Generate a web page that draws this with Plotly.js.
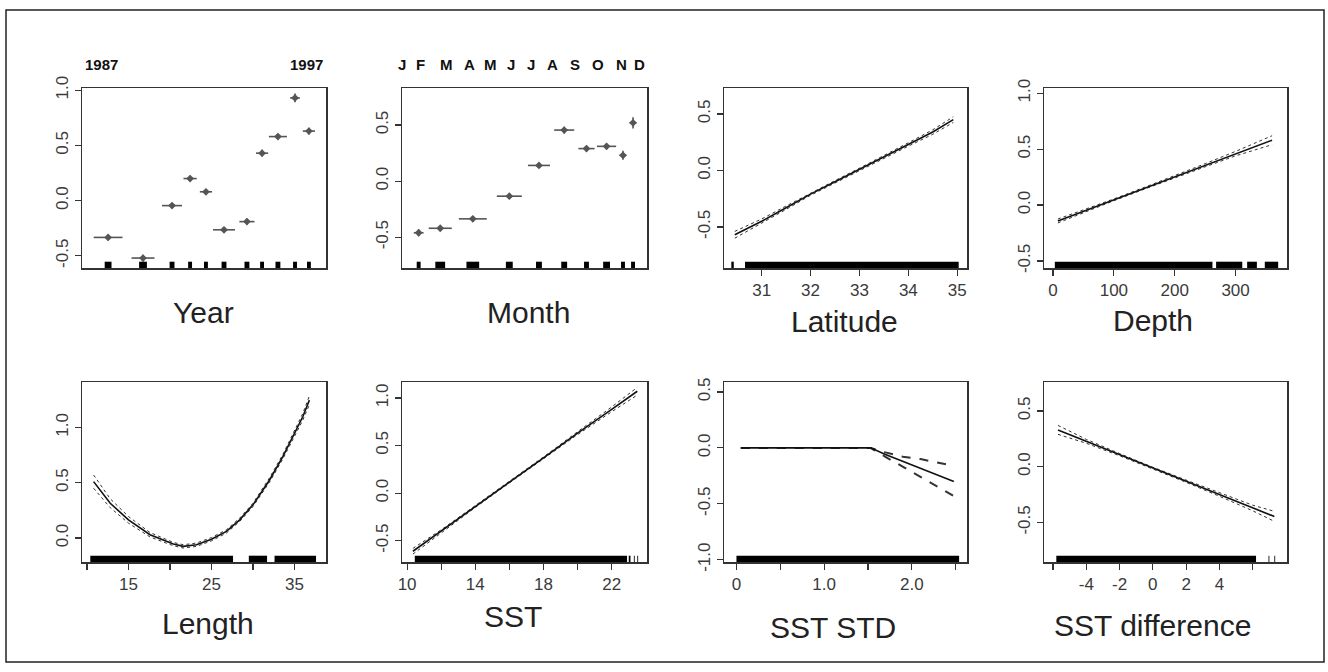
<!DOCTYPE html>
<html><head><meta charset="utf-8">
<script src="https://cdn.plot.ly/plotly-3.0.1.min.js"></script>
<style>html,body{margin:0;padding:0;background:#fff}#chart{width:1328px;height:672px}</style>
</head><body><div id="chart"></div><script>
// ---------------- data ----------------
// Year (factor)
const yearEndLabels = ['1987', '1997'];
const yearEndPos = [0.078, 0.922];
const yearPos = [0.107, 0.25, 0.369, 0.443, 0.508, 0.582, 0.676, 0.738, 0.803, 0.873, 0.930];
const yearEffect = [-0.333, -0.52, -0.045, 0.20, 0.08, -0.264, -0.19, 0.43, 0.58, 0.93, 0.63];
const yearSE = [0.025, 0.03, 0.02, 0.025, 0.025, 0.025, 0.025, 0.03, 0.025, 0.04, 0.03];
const yearHalfWidth = [0.059, 0.047, 0.041, 0.027, 0.025, 0.045, 0.031, 0.025, 0.037, 0.02, 0.025];
const yearRugHalf = [0.014, 0.016, 0.010, 0.008, 0.008, 0.010, 0.010, 0.008, 0.010, 0.008, 0.008];
// Month (factor)
const monthLetters = ['J', 'F', 'M', 'A', 'M', 'J', 'J', 'A', 'S', 'O', 'N', 'D'];
const monthLetterPos = [0.0, 0.075, 0.18, 0.274, 0.36, 0.443, 0.525, 0.616, 0.706, 0.80, 0.896, 0.971];
const monthPos = [0.068, 0.156, 0.289, 0.438, 0.559, 0.662, 0.753, 0.835, 0.902, 0.943];
const monthEffect = [-0.46, -0.42, -0.336, -0.134, 0.14, 0.455, 0.29, 0.31, 0.23, 0.52];
const monthSE = [0.03, 0.02, 0.025, 0.02, 0.02, 0.03, 0.025, 0.025, 0.04, 0.05];
const monthHalfWidth = [0.020, 0.047, 0.057, 0.051, 0.045, 0.041, 0.033, 0.039, 0.014, 0.014];
const monthRugHalf = [0.008, 0.020, 0.026, 0.014, 0.012, 0.012, 0.010, 0.014, 0.008, 0.008];
// Latitude
const latX = [30.45, 31, 31.5, 32, 32.5, 33, 33.5, 34, 34.5, 34.92];
const latY = [-0.57, -0.45, -0.33, -0.21, -0.10, 0.01, 0.12, 0.23, 0.34, 0.45];
const latUpper = [-0.54, -0.43, -0.315, -0.20, -0.09, 0.02, 0.13, 0.245, 0.36, 0.475];
const latLower = [-0.60, -0.47, -0.345, -0.22, -0.11, 0.0, 0.11, 0.215, 0.32, 0.425];
const latRug = [[30.38, 30.43], [30.66, 35.03]];
// Depth
const depX = [8, 50, 100, 150, 200, 250, 300, 360];
const depY = [-0.143, -0.056, 0.047, 0.15, 0.253, 0.356, 0.46, 0.58];
const depUpper = [-0.125, -0.045, 0.055, 0.158, 0.262, 0.37, 0.48, 0.62];
const depLower = [-0.16, -0.067, 0.039, 0.142, 0.244, 0.342, 0.44, 0.54];
const depRug = [[3, 262], [268, 311], [319, 335], [348, 370]];
// Length
const lenX = [10.8, 12.8, 15, 17.6, 20.4, 21.6, 23.2, 25, 26.8, 28.4, 30, 32, 33.6, 35, 36, 36.8];
const lenY = [0.51, 0.315, 0.165, 0.03, -0.054, -0.075, -0.06, -0.01, 0.06, 0.165, 0.30, 0.525, 0.735, 0.946, 1.096, 1.246];
const lenUpper = [0.57, 0.355, 0.195, 0.05, -0.039, -0.06, -0.045, 0.005, 0.075, 0.18, 0.315, 0.545, 0.755, 0.97, 1.125, 1.285];
const lenLower = [0.45, 0.275, 0.135, 0.01, -0.069, -0.09, -0.075, -0.025, 0.045, 0.15, 0.285, 0.505, 0.715, 0.92, 1.065, 1.205];
const lenRug = [[10.4, 27.6], [29.5, 31.7], [32.6, 37.6]];
// SST
const sstX = [10.34, 12, 14, 16, 18, 20, 22, 23.5];
const sstY = [-0.61, -0.40, -0.14, 0.115, 0.37, 0.63, 0.88, 1.07];
const sstUpper = [-0.58, -0.385, -0.13, 0.123, 0.38, 0.645, 0.905, 1.11];
const sstLower = [-0.64, -0.415, -0.15, 0.107, 0.36, 0.615, 0.855, 1.03];
const sstRug = [[10.45, 22.9], [23.0, 23.1], [23.3, 23.35], [23.5, 23.55]];
// SST STD
const stdX = [0.05, 0.5, 1.0, 1.53, 1.7, 1.9, 2.1, 2.3, 2.48];
const stdY = [0, 0, 0, 0, -0.06, -0.12, -0.18, -0.24, -0.30];
const stdUpper = [0, 0, 0, 0, -0.04, -0.08, -0.10, -0.13, -0.16];
const stdLower = [0, 0, 0, 0, -0.08, -0.17, -0.26, -0.35, -0.43];
const stdRug = [[0.0, 2.54]];
// SST difference
const difX = [-5.7, -4, -2, 0, 2, 4, 6, 7.3];
const difY = [0.328, 0.227, 0.108, -0.012, -0.13, -0.25, -0.37, -0.446];
const difUpper = [0.37, 0.245, 0.118, -0.005, -0.12, -0.235, -0.345, -0.40];
const difLower = [0.29, 0.21, 0.098, -0.02, -0.14, -0.265, -0.395, -0.49];
const difRug = [[-5.8, 6.2], [6.95, 7.0], [7.3, 7.35]];
// axis titles
const axisTitles = ['Year', 'Month', 'Latitude', 'Depth', 'Length', 'SST', 'SST STD', 'SST difference'];

// ---------------- layout ----------------
const W = 1328, H = 672;
const px = v => v / W, py = v => 1 - v / H;
const FONT = 'Liberation Sans, Arial, Helvetica, sans-serif';
const cols = [[82, 326], [402, 647], [724, 967], [1044, 1287]];
const rows = [[88, 268], [382, 562]];
const panels = [
  {yr: [-0.61, 1.02], yt: [-0.5, 0, 0.5, 1.0], xr: [0, 1]},
  {yr: [-0.774, 0.83], yt: [-0.5, 0, 0.5], xr: [0, 1]},
  {yr: [-0.864, 0.73], yt: [-0.5, 0, 0.5], xr: [30.23, 35.2], xt: [31, 32, 33, 34, 35], xtt: ['31', '32', '33', '34', '35']},
  {yr: [-0.563, 1.047], yt: [-0.5, 0, 0.5, 1.0], xr: [-14.8, 384.5], xt: [0, 100, 200, 300], xtt: ['0', '100', '200', '300']},
  {yr: [-0.216, 1.41], yt: [0, 0.5, 1.0], xr: [9.4, 38.8], xt: [10, 15, 20, 25, 30, 35], xtt: ['', '15', '', '25', '', '35']},
  {yr: [-0.723, 1.167], yt: [-0.5, 0, 0.5, 1.0], xr: [9.7, 24.07], xt: [10, 12, 14, 16, 18, 20, 22], xtt: ['10', '', '14', '', '18', '', '22']},
  {yr: [-1.02, 0.589], yt: [-1.0, -0.5, 0, 0.5], xr: [-0.142, 2.63], xt: [0, 0.5, 1, 1.5, 2, 2.5], xtt: ['0', '', '1.0', '', '2.0', '']},
  {yr: [-0.854, 0.759], yt: [-0.5, 0, 0.5], xr: [-6.54, 8.06], xt: [-6, -4, -2, 0, 2, 4, 6], xtt: ['', '-4', '-2', '0', '2', '4', '']}
];
const titlePos = [[203, 312], [528, 312], [844, 321], [1153, 320], [208, 623], [513, 616], [833, 627], [1152, 625]];

const layout = {
  width: W, height: H, margin: {l: 0, r: 0, t: 0, b: 0},
  paper_bgcolor: '#fff', plot_bgcolor: '#fff', showlegend: false,
  font: {family: FONT, color: '#333'},
  shapes: [], annotations: []
};
const sfx = i => (i === 0 ? '' : String(i + 1));

panels.forEach((p, i) => {
  const c = cols[i % 4], r = rows[Math.floor(i / 4)];
  const s = sfx(i);
  layout['xaxis' + s] = {
    domain: [px(c[0]), px(c[1])], anchor: 'y' + s, range: p.xr,
    showline: true, mirror: true, linecolor: '#333', linewidth: 1.5,
    showgrid: false, zeroline: false,
    ticks: p.xt ? 'outside' : '', ticklen: 6, tickwidth: 1.2, tickcolor: '#333',
    tickmode: p.xt ? 'array' : 'auto', tickvals: p.xt || [], ticktext: p.xtt || [],
    showticklabels: !!p.xt, tickfont: {size: 17, color: '#3a3a3a', family: FONT}
  };
  layout['yaxis' + s] = {
    domain: [py(r[1]), py(r[0])], anchor: 'x' + s, range: p.yr,
    showline: true, mirror: true, linecolor: '#333', linewidth: 1.5,
    showgrid: false, zeroline: false,
    ticks: 'outside', ticklen: 6, tickwidth: 1.2, tickcolor: '#333',
    tickmode: 'array', tickvals: p.yt, ticktext: p.yt.map(v => v.toFixed(1)),
    tickangle: -90, tickfont: {size: 17, color: '#3a3a3a', family: FONT}
  };
  layout.annotations.push({
    text: axisTitles[i], xref: 'paper', yref: 'paper',
    x: px(titlePos[i][0]), y: py(titlePos[i][1]), xanchor: 'center', yanchor: 'middle',
    showarrow: false, font: {size: 30, color: '#222', family: FONT}
  });
});

const traces = [];
// factor panels
function factorPanel(i, pos, eff, se, hw, rugHalf) {
  const s = sfx(i);
  const xs = [], ys = [];
  pos.forEach((p, k) => {
    xs.push(p - hw[k], p + hw[k], null, p, p, null);
    ys.push(eff[k], eff[k], null, eff[k] - se[k], eff[k] + se[k], null);
    layout.shapes.push({type: 'rect', xref: 'x' + s, yref: 'y' + s + ' domain',
      x0: p - rugHalf[k], x1: p + rugHalf[k], y0: 0, y1: 0.035,
      fillcolor: '#000', line: {width: 0}});
  });
  traces.push({type: 'scatter', mode: 'lines', x: xs, y: ys, xaxis: 'x' + s, yaxis: 'y' + s,
    line: {color: '#555', width: 1.6}, hoverinfo: 'skip'});
  traces.push({type: 'scatter', mode: 'markers', x: pos, y: eff, xaxis: 'x' + s, yaxis: 'y' + s,
    marker: {symbol: 'diamond', size: 6, color: '#555'}, hoverinfo: 'skip'});
}
factorPanel(0, yearPos, yearEffect, yearSE, yearHalfWidth, yearRugHalf);
factorPanel(1, monthPos, monthEffect, monthSE, monthHalfWidth, monthRugHalf);
yearEndLabels.forEach((t, k) => layout.annotations.push({
  text: '<b>' + t + '</b>', xref: 'x', yref: 'y domain', x: yearEndPos[k], y: 1 + 23 / 180,
  xanchor: 'center', yanchor: 'middle', showarrow: false, font: {size: 15, color: '#111', family: FONT}
}));
monthLetters.forEach((t, k) => layout.annotations.push({
  text: '<b>' + t + '</b>', xref: 'x2', yref: 'y2 domain', x: monthLetterPos[k], y: 1 + 23 / 180,
  xanchor: 'center', yanchor: 'middle', showarrow: false, font: {size: 15, color: '#111', family: FONT}
}));

// continuous panels
function smoothPanel(i, x, y, up, lo, rug, dashed) {
  const s = sfx(i);
  traces.push({type: 'scatter', mode: 'lines', x: x, y: up, xaxis: 'x' + s, yaxis: 'y' + s,
    line: {color: '#333', width: dashed ? 2 : 1, dash: dashed ? 'dash' : 'dot'}, hoverinfo: 'skip'});
  traces.push({type: 'scatter', mode: 'lines', x: x, y: lo, xaxis: 'x' + s, yaxis: 'y' + s,
    line: {color: '#333', width: dashed ? 2 : 1, dash: dashed ? 'dash' : 'dot'}, hoverinfo: 'skip'});
  traces.push({type: 'scatter', mode: 'lines', x: x, y: y, xaxis: 'x' + s, yaxis: 'y' + s,
    line: {color: '#111', width: 1.6}, hoverinfo: 'skip'});
  rug.forEach(seg => layout.shapes.push({type: 'rect', xref: 'x' + s, yref: 'y' + s + ' domain',
    x0: seg[0], x1: seg[1], y0: 0, y1: 0.035, fillcolor: '#000', line: {width: 0}}));
}
smoothPanel(2, latX, latY, latUpper, latLower, latRug, false);
smoothPanel(3, depX, depY, depUpper, depLower, depRug, false);
smoothPanel(4, lenX, lenY, lenUpper, lenLower, lenRug, false);
smoothPanel(5, sstX, sstY, sstUpper, sstLower, sstRug, false);
smoothPanel(6, stdX, stdY, stdUpper, stdLower, stdRug, true);
smoothPanel(7, difX, difY, difUpper, difLower, difRug, false);

// outer frame
layout.shapes.push({type: 'rect', xref: 'paper', yref: 'paper',
  x0: px(6), x1: px(1324), y0: py(662), y1: py(10), line: {color: '#222', width: 1.5}, fillcolor: 'rgba(0,0,0,0)'});

Plotly.newPlot('chart', traces, layout, {staticPlot: true, displayModeBar: false});
</script></body></html>
